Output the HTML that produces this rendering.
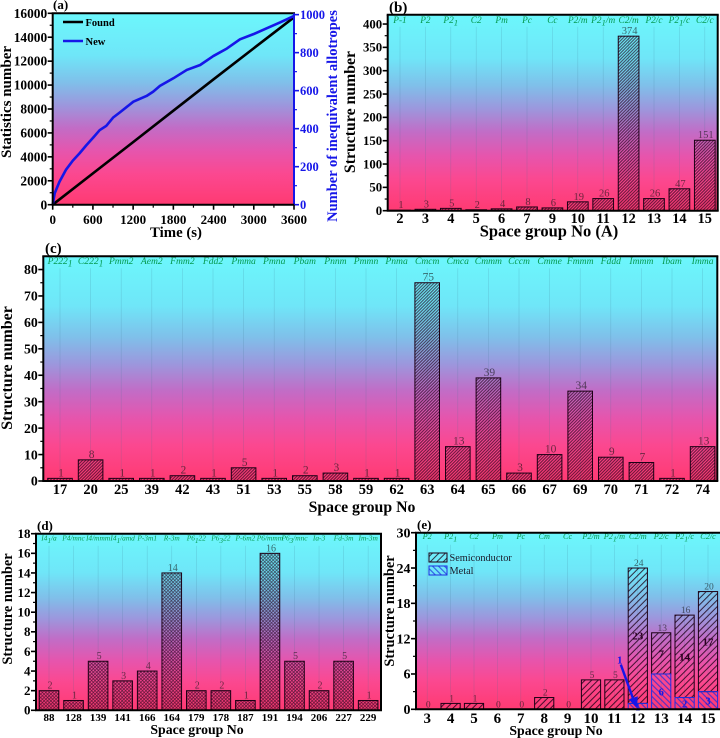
<!DOCTYPE html>
<html lang="en">
<head>
<meta charset="utf-8">
<title>Structure search statistics</title>
<style>
html,body{margin:0;padding:0;background:#fff;}
svg{display:block;font-family:"Liberation Serif",serif;}
</style>
</head>
<body>
<svg id="fig" xmlns="http://www.w3.org/2000/svg" width="720" height="738" viewBox="0 0 720 738">
<defs>
<linearGradient id="bg" x1="0" y1="0" x2="0" y2="1">
<stop offset="0" stop-color="#6cf7fc"/>
<stop offset="0.22" stop-color="#6fe6f8"/>
<stop offset="0.36" stop-color="#7fc0ea"/>
<stop offset="0.48" stop-color="#9c97dd"/>
<stop offset="0.6" stop-color="#c26cc6"/>
<stop offset="0.72" stop-color="#e655ad"/>
<stop offset="0.84" stop-color="#fb4890"/>
<stop offset="1" stop-color="#ff3a72"/>
</linearGradient>
<pattern id="fine" patternUnits="userSpaceOnUse" width="2.2" height="2.2" patternTransform="rotate(-45)">
<line x1="0" y1="1.1" x2="2.2" y2="1.1" stroke="#200018" stroke-width="1" stroke-opacity="0.72"/>
</pattern>
<pattern id="cross" patternUnits="userSpaceOnUse" width="2.4" height="2.4" patternTransform="rotate(45)">
<path d="M0 1.2H2.4M1.2 0V2.4" stroke="#200018" stroke-width="0.75" stroke-opacity="0.72" fill="none"/>
</pattern>
<pattern id="semi" patternUnits="userSpaceOnUse" width="4.6" height="4.6" patternTransform="rotate(-45)">
<line x1="0" y1="2.3" x2="4.6" y2="2.3" stroke="#1a0014" stroke-width="1" stroke-opacity="0.8"/>
</pattern>
<pattern id="metal" patternUnits="userSpaceOnUse" width="4.2" height="4.2" patternTransform="rotate(45)">
<line x1="0" y1="2.1" x2="4.2" y2="2.1" stroke="#1a2ae0" stroke-width="1" stroke-opacity="0.85"/>
</pattern>
</defs>
</svg>
<script>
// Panel (a) data
var aTimes = [0, 30, 100, 200, 300, 400, 500, 617, 700, 800, 900, 1000, 1203, 1400, 1500, 1600, 1800, 2000, 2200, 2396, 2600, 2794, 3000, 3192, 3400, 3600];
var aNew = [0, 60, 120, 185, 232, 270, 312, 358, 392, 415, 458, 485, 542, 572, 595, 625, 665, 709, 735, 782, 822, 870, 898, 928, 960, 993];
var aFoundTimes = [0, 600, 1200, 1800, 2400, 3000, 3600];
var aFound = [0, 2620, 5230, 7860, 10480, 13080, 15667];
var aXTicks = [0, 600, 1200, 1800, 2400, 3000, 3600];
var aLeftTicks = [0, 2000, 4000, 6000, 8000, 10000, 12000, 14000, 16000];
var aRightTicks = [0, 200, 400, 600, 800, 1000];

// Panel (b) data
var bCategories = [2, 3, 4, 5, 6, 7, 9, 10, 11, 12, 13, 14, 15];
var bValues = [1, 3, 5, 2, 4, 8, 6, 19, 26, 374, 26, 47, 151];
var bGroups = ["P-1", "P2", "P2_1", "C2", "Pm", "Pc", "Cc", "P2/m", "P2_1/m", "C2/m", "P2/c", "P2_1/c", "C2/c"];
var bYTicks = [0, 50, 100, 150, 200, 250, 300, 350, 400];

// Panel (c) data
var cCategories = [17, 20, 25, 39, 42, 43, 51, 53, 55, 58, 59, 62, 63, 64, 65, 66, 67, 69, 70, 71, 72, 74];
var cValues = [1, 8, 1, 1, 2, 1, 5, 1, 2, 3, 1, 1, 75, 13, 39, 3, 10, 34, 9, 7, 1, 13];
var cGroups = ["P222_1", "C222_1", "Pmm2", "Aem2", "Fmm2", "Fdd2", "Pmma", "Pmna", "Pbam", "Pnnm", "Pmmn", "Pnma", "Cmcm", "Cmca", "Cmmm", "Cccm", "Cmme", "Fmmm", "Fddd", "Immm", "Ibam", "Imma"];
var cYTicks = [0, 10, 20, 30, 40, 50, 60, 70, 80];

// Panel (d) data
var dCategories = [88, 128, 139, 141, 166, 164, 179, 178, 187, 191, 194, 206, 227, 229];
var dValues = [2, 1, 5, 3, 4, 14, 2, 2, 1, 16, 5, 2, 5, 1];
var dGroups = ["I4_1/a", "P4/mnc", "I4/mmm", "I4_1/amd", "P-3m1", "R-3m", "P6_122", "P6_322", "P-6m2", "P6/mmm", "P6_3/mnc", "Ia-3", "Fd-3m", "Im-3m"];
var dYTicks = [0, 2, 4, 6, 8, 10, 12, 14, 16, 18];

// Panel (e) data
var eCategories = [3, 4, 5, 6, 7, 8, 9, 10, 11, 12, 13, 14, 15];
var eTotals = [0, 1, 1, 0, 0, 2, 0, 5, 5, 24, 13, 16, 20];
var eMetal = [0, 0, 0, 0, 0, 0, 0, 0, 0, 1, 6, 2, 3];
var eGroups = ["P2", "P2_1", "C2", "Pm", "Pc", "Cm", "Cc", "P2/m", "P2_1/m", "C2/m", "P2/c", "P2_1/c", "C2/c"];
var eYTicks = [0, 6, 12, 18, 24, 30];

var NS = "http://www.w3.org/2000/svg";
var fig = document.getElementById("fig");
var GREEN = "#069a50";
var BLUE = "#1616e8";

function mk(tag, attrs, parent, text) {
  var node = document.createElementNS(NS, tag);
  for (var k in attrs) node.setAttribute(k, attrs[k]);
  if (text !== undefined) node.textContent = text;
  (parent || fig).appendChild(node);
  return node;
}
function linear(d0, d1, r0, r1) {
  return function (v) { return r0 + (v - d0) / (d1 - d0) * (r1 - r0); };
}
function midpoints(ticks) {
  var out = [];
  for (var i = 0; i + 1 < ticks.length; i++) out.push((ticks[i] + ticks[i + 1]) / 2);
  return out;
}
function groupLabel(parent, label, x, y, size) {
  var t = mk("text", { x: x, y: y, "text-anchor": "middle", "font-size": size, "font-style": "italic", fill: GREEN }, parent);
  
  
  var parts = label.split("_");
  mk("tspan", {}, t, parts[0]);
  if (parts[1] !== undefined) {
    mk("tspan", { dy: 2.5, "font-size": size * 0.95 }, t, parts[1].charAt(0));
    if (parts[1].length > 1) mk("tspan", { dy: -2.5 }, t, parts[1].slice(1));
  }
}
function frame(parent, box, id) {
  var r = mk("rect", { x: box.l, y: box.t, width: box.r - box.l, height: box.b - box.t, fill: "url(#bg)" }, parent);
  
  
}
function border(parent, box, id, rightColor) {
  var top = mk("line", { x1: box.l - 1, x2: box.r + 1, y1: box.t, y2: box.t, stroke: "#000", "stroke-width": 2 }, parent);
  
  
  var right = mk("line", { x1: box.r, x2: box.r, y1: box.t, y2: box.b, stroke: rightColor || "#000", "stroke-width": 2 }, parent);
  
  
  var bottom = mk("line", { x1: box.l - 1, x2: box.r + 1, y1: box.b, y2: box.b, stroke: "#000", "stroke-width": 2 }, parent);
  
  
  var left = mk("line", { x1: box.l, x2: box.l, y1: box.t, y2: box.b, stroke: "#000", "stroke-width": 2 }, parent);
  
  
}
function yAxisTicks(parent, box, y, ticks, size, id) {
  ticks.forEach(function (v) {
    var tk = mk("line", { x1: box.l - 5, x2: box.l, y1: y(v), y2: y(v), stroke: "#000", "stroke-width": 1.6 }, parent);
    
    
    var lb = mk("text", { x: box.l - 5.5, y: y(v) + size * 0.34, "text-anchor": "end", "font-size": size, "font-weight": "bold" }, parent, String(v));
    
    
  });
  midpoints(ticks).forEach(function (v) {
    var tk = mk("line", { x1: box.l - 3, x2: box.l, y1: y(v), y2: y(v), stroke: "#000", "stroke-width": 1.2 }, parent);
    
    
  });
}
function title(parent, str, x, y, size, rotate, color, name) {
  var attrs = { x: x, y: y, "text-anchor": "middle", "font-size": size, "font-weight": "bold", fill: color || "#000" };
  if (rotate) attrs.transform = "rotate(-90 " + x + " " + y + ")";
  var t = mk("text", attrs, parent, str);
  
  
}

function drawBarPanel(o) {
  var g = mk("g", {});
  
  
  var box = o.box;
  frame(g, box, o.id);
  var y = linear(0, o.yMax, box.b, box.t);
  var x = function (i) { return o.first + i * o.step; };
  o.categories.forEach(function (cat, i) {
    var drop = mk("line", { x1: x(i), x2: x(i), y1: box.t + 12, y2: box.b, stroke: "#3c6f8c", "stroke-width": 0.6, "stroke-opacity": 0.25 }, g);
    
    
    groupLabel(g, o.groups[i], x(i), o.groupY, o.groupSize);
    var total = o.values[i];
    var metal = o.metal ? o.metal[i] : 0;
    if (total > 0) {
      var bar = mk("rect", { x: x(i) - o.barW / 2, y: y(total), width: o.barW, height: y(metal) - y(total), fill: "url(#" + o.hatch + ")", stroke: "#1d0015", "stroke-width": 1 }, g);
      
      
    }
    if (metal > 0) {
      var mbar = mk("rect", { x: x(i) - o.barW / 2, y: y(metal), width: o.barW, height: y(0) - y(metal), fill: "url(#metal)", stroke: "#2030e0", "stroke-width": 1 }, g);
      
      
      var sl = mk("text", { x: x(i), y: y(metal + (total - metal) / 2) + 4, "text-anchor": "middle", "font-size": 11, "font-weight": "bold", fill: "#2a0020" }, g, String(total - metal));
      
      
      var ml = mk("text", { x: x(i), y: y(metal / 2) + 4, "text-anchor": "middle", "font-size": 10.5, "font-weight": "bold", fill: BLUE }, g, String(metal));
      
      
    }
    var vl = mk("text", { x: x(i) + 1, y: y(total) - 2, "text-anchor": "middle", "font-size": o.valueSize, fill: "#111", "fill-opacity": 0.62 }, g, String(total));
    
    
    var xl = mk("text", { x: x(i), y: o.xLabelY, "text-anchor": "middle", "font-size": o.xLabelSize, "font-weight": "bold" }, g, String(cat));
    
    
  });
  border(g, box, o.id);
  yAxisTicks(g, box, y, o.yTicks, o.yLabelSize, o.id);
  title(g, o.xTitle, o.xTitleX, o.xTitleY, o.xTitleSize, false, "#000", "x-axis-title-" + o.id);
  title(g, "Structure number", o.yTitleX, o.yTitleY, o.yTitleSize, true, "#000", "y-axis-title-" + o.id);
  var tag = mk("text", { x: o.tagX, y: o.tagY, "font-size": o.tagSize, "font-weight": "bold" }, g, "(" + o.id + ")");
  
  
  return { g: g, x: x, y: y };
}

// Panel (a): line chart
(function () {
  var g = mk("g", {});
  
  
  var box = { l: 52.7, r: 294, t: 13.3, b: 204.7 };
  frame(g, box, "a");
  var x = linear(0, 3600, box.l, box.r);
  var yL = linear(0, 16000, box.b, box.t);
  var yR = linear(0, 1007, box.b, box.t);
  var foundPts = aFoundTimes.map(function (t, i) { return x(t) + "," + yL(aFound[i]); }).join(" ");
  var found = mk("polyline", { points: foundPts, fill: "none", stroke: "#000", "stroke-width": 2.6 }, g);
  
  
  var newPts = aTimes.map(function (t, i) { return x(t) + "," + yR(aNew[i]); }).join(" ");
  var nw = mk("polyline", { points: newPts, fill: "none", stroke: BLUE, "stroke-width": 2.6, "stroke-linejoin": "round" }, g);
  
  
  border(g, box, "a", BLUE);
  yAxisTicks(g, box, yL, aLeftTicks, 13.4, "a");
  aRightTicks.forEach(function (v) {
    var tk = mk("line", { x1: box.r, x2: box.r + 5, y1: yR(v), y2: yR(v), stroke: BLUE, "stroke-width": 1.6 }, g);
    
    
    var lb = mk("text", { x: box.r + 6, y: yR(v) + 4.4, "font-size": 12.5, "font-weight": "bold", fill: BLUE }, g, String(v));
    
    
  });
  midpoints(aRightTicks).forEach(function (v) {
    var tk = mk("line", { x1: box.r, x2: box.r + 3, y1: yR(v), y2: yR(v), stroke: BLUE, "stroke-width": 1.2 }, g);
    
    
  });
  aXTicks.forEach(function (v) {
    var tk = mk("line", { x1: x(v), x2: x(v), y1: box.b, y2: box.b + 5, stroke: "#000", "stroke-width": 1.6 }, g);
    
    
    var lb = mk("text", { x: x(v), y: 224, "text-anchor": "middle", "font-size": 13, "font-weight": "bold" }, g, String(v));
    
    
  });
  midpoints(aXTicks).forEach(function (v) {
    var tk = mk("line", { x1: x(v), x2: x(v), y1: box.b, y2: box.b + 3, stroke: "#000", "stroke-width": 1.2 }, g);
    
    
  });
  title(g, "Time (s)", 176, 237, 14.8, false, "#000", "x-axis-title-a");
  title(g, "Statistics number", 11, 102, 15, true, "#000", "y-axis-title-a");
  title(g, "Number of inequivalent allotropes", 337, 116, 14.5, true, BLUE, "right-axis-title-a");
  var tag = mk("text", { x: 53, y: 9, "font-size": 13, "font-weight": "bold" }, g, "(a)");
  
  

  var l1 = mk("line", { x1: 63, x2: 83, y1: 22, y2: 22, stroke: "#000", "stroke-width": 2.4 }, g);
  
  
  var t1 = mk("text", { x: 85.5, y: 26, "font-size": 10.5, "font-weight": "bold" }, g, "Found");
  
  
  var l2 = mk("line", { x1: 63, x2: 83, y1: 41, y2: 41, stroke: BLUE, "stroke-width": 2.4 }, g);
  
  
  var t2 = mk("text", { x: 85.5, y: 45, "font-size": 10.5, "font-weight": "bold" }, g, "New");
  
  
})();

drawBarPanel({
  id: "b", box: { l: 387.7, r: 717.7, t: 14.7, b: 210.7 }, yMax: 420,
  categories: bCategories, values: bValues, groups: bGroups, yTicks: bYTicks,
  first: 400, step: 25.4, barW: 20.7, hatch: "fine",
  groupY: 23, groupSize: 9.3, valueSize: 10.5, xLabelY: 223, xLabelSize: 14.3, yLabelSize: 12.8,
  xTitle: "Space group No (A)", xTitleX: 549, xTitleY: 236.5, xTitleSize: 16.5,
  yTitleX: 355, yTitleY: 112, yTitleSize: 15.8,
  tagX: 389, tagY: 12, tagSize: 15
});

drawBarPanel({
  id: "c", box: { l: 43.3, r: 717.3, t: 256.3, b: 481 }, yMax: 85,
  categories: cCategories, values: cValues, groups: cGroups, yTicks: cYTicks,
  first: 60, step: 30.6, barW: 24.6, hatch: "fine",
  groupY: 264, groupSize: 9.6, valueSize: 11.5, xLabelY: 494, xLabelSize: 14.5, yLabelSize: 13.8,
  xTitle: "Space group No", xTitleX: 362, xTitleY: 512, xTitleSize: 15.8,
  yTitleX: 12, yTitleY: 368, yTitleSize: 16,
  tagX: 45, tagY: 253, tagSize: 15
});

drawBarPanel({
  id: "d", box: { l: 36, r: 381, t: 533.7, b: 710.3 }, yMax: 18,
  categories: dCategories, values: dValues, groups: dGroups, yTicks: dYTicks,
  first: 49, step: 24.55, barW: 19.6, hatch: "cross",
  groupY: 540.5, groupSize: 7.4, valueSize: 10, xLabelY: 721, xLabelSize: 11, yLabelSize: 13,
  xTitle: "Space group No", xTitleX: 197, xTitleY: 734, xTitleSize: 13.8,
  yTitleX: 12, yTitleY: 609, yTitleSize: 14.4,
  tagX: 37, tagY: 530, tagSize: 13
});

(function () {
  var p = drawBarPanel({
    id: "e", box: { l: 416, r: 722, t: 532.7, b: 709.3 }, yMax: 30,
    categories: eCategories, values: eTotals, metal: eMetal, groups: eGroups, yTicks: eYTicks,
    first: 427.2, step: 23.4, barW: 19.2, hatch: "semi",
    groupY: 539, groupSize: 8.2, valueSize: 9.5, xLabelY: 723, xLabelSize: 15, yLabelSize: 14,
    xTitle: "Space group No", xTitleX: 556, xTitleY: 735, xTitleSize: 13.8,
    yTitleX: 394, yTitleY: 611, yTitleSize: 14.4,
    tagX: 417, tagY: 529, tagSize: 13
  });
  var g = p.g;
  var s1 = mk("rect", { x: 429, y: 553, width: 18, height: 9, fill: "url(#semi)", stroke: "#1d0015", "stroke-width": 1 }, g);
  
  
  var t1 = mk("text", { x: 449.5, y: 561, "font-size": 10.3, fill: "#1a1a2a" }, g, "Semiconductor");
  
  
  var s2 = mk("rect", { x: 429, y: 566, width: 18, height: 9, fill: "url(#metal)", stroke: "#2030e0", "stroke-width": 1 }, g);
  
  
  var t2 = mk("text", { x: 449.5, y: 574, "font-size": 10.3, fill: "#1a1a2a" }, g, "Metal");
  
  

  var idx = eCategories.indexOf(12);
  var tipX = p.x(idx) - 1;
  var tipY = p.y(eMetal[idx] - 1);
  var startX = tipX - 16;
  var startY = p.y(7.6);
  var arrow = mk("line", { x1: startX, y1: startY, x2: tipX - 2.4, y2: tipY - 7, stroke: BLUE, "stroke-width": 2.4 }, g);
  
  
  var head = mk("polygon", { points: tipX + "," + (tipY - 1) + " " + (tipX - 8) + "," + (tipY - 10) + " " + (tipX + 1) + "," + (tipY - 13), fill: BLUE }, g);
  
  
  var lab = mk("text", { x: startX - 1, y: startY - 1, "text-anchor": "middle", "font-size": 11, "font-weight": "bold", fill: BLUE }, g, String(eMetal[idx]));
  
  
})();
</script>
</body>
</html>
